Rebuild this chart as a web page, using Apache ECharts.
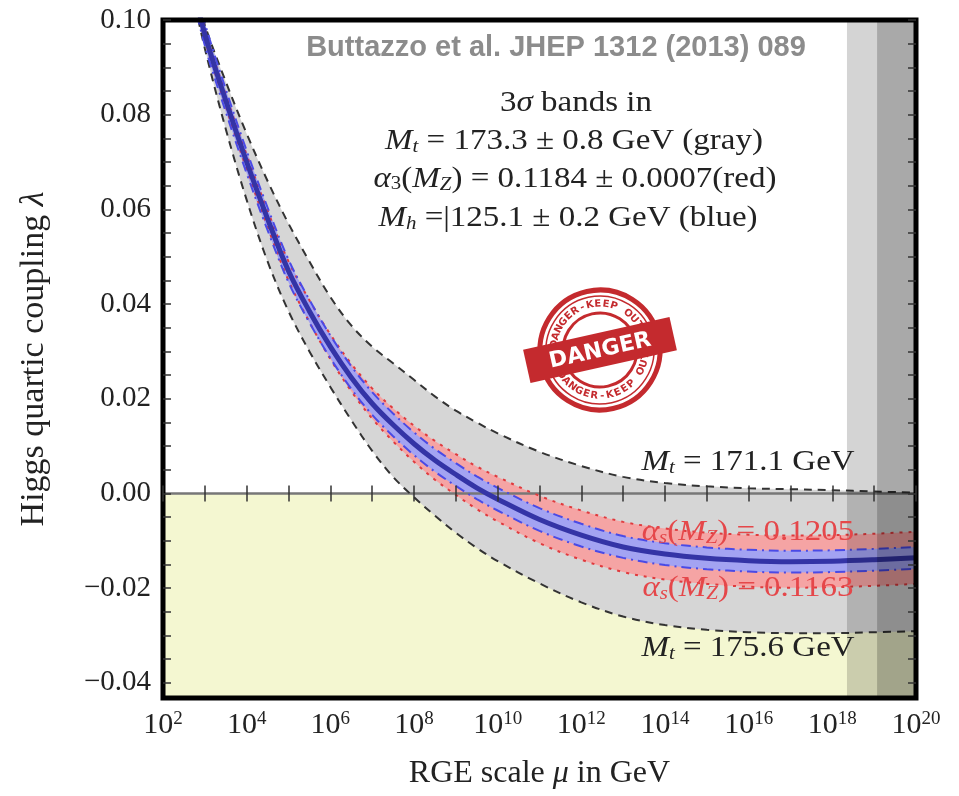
<!DOCTYPE html>
<html>
<head>
<meta charset="utf-8">
<script src="https://cdn.jsdelivr.net/npm/echarts@6/dist/echarts.min.js"></script>
<style>
  html, body { margin: 0; padding: 0; background: #fff; }
  #chart { width: 959px; height: 796px; }
</style>
</head>
<body>
<div id="chart"></div>
<script>
// x is log10 of the RGE scale mu (GeV)
const logMu = [2.7, 3, 3.5, 4, 4.5, 5, 5.5, 6, 6.5, 7, 7.5, 8, 8.5, 9, 9.5, 10, 11, 12, 13, 14, 15, 16, 17, 18, 19, 20];

// central value of the Higgs quartic coupling
const lambdaCentral = [0.108, 0.097, 0.083, 0.070, 0.058, 0.047, 0.0385, 0.031, 0.0245, 0.019, 0.0145, 0.0105, 0.007, 0.004, 0.0012, -0.0012, -0.0055, -0.0088, -0.0113, -0.0128, -0.0137, -0.0142, -0.0144, -0.0143, -0.0140, -0.0136];
// gray band edges: Mt = 171.1 GeV (upper) and Mt = 175.6 GeV (lower)
const mtLight = [0.109, 0.099, 0.087, 0.076, 0.066, 0.057, 0.049, 0.0415, 0.0355, 0.031, 0.0275, 0.024, 0.0205, 0.0175, 0.015, 0.0127, 0.0088, 0.0058, 0.0035, 0.0022, 0.0015, 0.0011, 0.0009, 0.0007, 0.0004, 0.0002];
const mtHeavy = [0.106, 0.094, 0.077, 0.062, 0.049, 0.0385, 0.030, 0.0225, 0.0155, 0.009, 0.0035, -0.0008, -0.0047, -0.0083, -0.0115, -0.0143, -0.019, -0.023, -0.026, -0.0278, -0.0288, -0.0293, -0.0295, -0.0295, -0.0293, -0.0291];
// red band edges: alpha_s(MZ) = 0.1205 (upper) and 0.1163 (lower)
const alphaHigh = [0.1088, 0.098, 0.0842, 0.0715, 0.0597, 0.049, 0.0408, 0.0336, 0.0274, 0.0222, 0.018, 0.0143, 0.0111, 0.0083, 0.0057, 0.0035, -0.0005, -0.0036, -0.006, -0.0074, -0.0083, -0.0087, -0.0089, -0.0088, -0.0085, -0.0081];
const alphaLow = [0.1072, 0.096, 0.0818, 0.0685, 0.0563, 0.045, 0.0362, 0.0284, 0.0216, 0.0158, 0.011, 0.0067, 0.0029, -0.0003, -0.0033, -0.0059, -0.0105, -0.014, -0.0166, -0.0182, -0.0191, -0.0197, -0.0199, -0.0198, -0.0195, -0.0191];
// blue band edges: Mh = 125.1 +- 0.2 GeV
const mhHigh = [0.1104, 0.0994, 0.0854, 0.0724, 0.0604, 0.0494, 0.0409, 0.0334, 0.0269, 0.0214, 0.0169, 0.0129, 0.0094, 0.0064, 0.0036, 0.0012, -0.0031, -0.0064, -0.009, -0.0105, -0.0114, -0.0119, -0.0121, -0.012, -0.0117, -0.0113];
const mhLow = [0.1056, 0.0946, 0.0806, 0.0676, 0.0556, 0.0446, 0.0361, 0.0286, 0.0221, 0.0166, 0.0121, 0.0081, 0.0046, 0.0016, -0.0012, -0.0036, -0.0079, -0.0112, -0.0136, -0.0151, -0.016, -0.0165, -0.0167, -0.0166, -0.0163, -0.0159];

// axes
const xRange = [2, 20];
const yRange = [-0.0432, 0.10];
const xTicks = [2, 3, 4, 5, 6, 7, 8, 9, 10, 11, 12, 13, 14, 15, 16, 17, 18, 19, 20];
const xLabels = [2, 4, 6, 8, 10, 12, 14, 16, 18, 20];
const yTicks = [-0.04, -0.035, -0.03, -0.025, -0.02, -0.015, -0.01, -0.005, 0, 0.005, 0.01, 0.015, 0.02, 0.025, 0.03, 0.035, 0.04, 0.045, 0.05, 0.055, 0.06, 0.065, 0.07, 0.075, 0.08, 0.085, 0.09, 0.095, 0.1];
const yLabels = [-0.04, -0.02, 0, 0.02, 0.04, 0.06, 0.08, 0.1];
// Planck-scale shading starts (log10 mu)
const planckStart = [18.35, 19.07];

const serif = '"Liberation Serif", "Times New Roman", serif';
const SMOOTH = 0.35;

const chart = echarts.init(document.getElementById('chart'));

function xy(ys) { return logMu.map((x, i) => [x, ys[i]]); }

// filled band between two edge arrays, drawn as one polygon through the axes
function band(name, hi, lo, color, z) {
  return {
    name: name, type: 'custom', z: z, silent: true, clip: true,
    data: [0],
    renderItem: function (params, api) {
      const top = hi.map((v, i) => api.coord([logMu[i], v]));
      const bottom = lo.map((v, i) => api.coord([logMu[i], v])).reverse();
      // repeat the corner points so the smoothing does not bulge at the ends
      const pts = [top[0]].concat(top, [top[top.length - 1], bottom[0]], bottom, [bottom[bottom.length - 1]]);
      const cs = params.coordSys;
      return {
        type: 'group',
        clipPath: { type: 'rect', shape: { x: cs.x, y: cs.y, width: cs.width, height: cs.height } },
        children: [
          { type: 'polygon', shape: { points: pts, smooth: SMOOTH }, style: { fill: color } }
        ]
      };
    }
  };
}

function edge(name, ys, color, width, dash, z) {
  return { name: name, type: 'line', data: xy(ys), symbol: 'none', smooth: SMOOTH, z: z, silent: true,
    lineStyle: { color: color, width: width, type: dash } };
}

function shade(name, rect, color, z) {
  return {
    name: name, type: 'custom', z: z, silent: true,
    data: [rect],
    encode: { x: [0, 1], y: [2, 3] },
    renderItem: function (params, api) {
      const a = api.coord([api.value(0), api.value(3)]);
      const b = api.coord([api.value(1), api.value(2)]);
      return { type: 'rect', shape: { x: a[0], y: a[1], width: b[0] - a[0], height: b[1] - a[1] }, style: { fill: color } };
    }
  };
}

const tickStyle = { inside: true, length: 8, lineStyle: { color: '#333', width: 1.5 } };

function yFmt(v) {
  if (Math.abs(v) < 1e-9) return '0.00';
  return (v < 0 ? '\u2212' : '') + Math.abs(v).toFixed(2);
}

// stamp
const stampColor = '#c42a2e';
const ringText = 'DANGER-KEEP OUT';
const stampEls = [
  { type: 'circle', shape: { r: 60 }, style: { fill: 'rgba(255,255,255,0)', stroke: stampColor, lineWidth: 5 } },
  { type: 'circle', shape: { r: 54 }, style: { fill: 'rgba(255,255,255,0)', stroke: stampColor, lineWidth: 1.5 } },
  { type: 'circle', shape: { r: 37 }, style: { fill: 'rgba(255,255,255,0)', stroke: stampColor, lineWidth: 3 } },
  { type: 'rect', shape: { x: -75, y: -17, width: 150, height: 34 }, style: { fill: stampColor } },
  { type: 'text', x: 0, y: 1, style: { text: 'DANGER', fontFamily: 'DejaVu Sans', fontWeight: 'bold', fontSize: 22,
    fill: '#fff', align: 'center', verticalAlign: 'middle', textAlign: 'center', textVerticalAlign: 'middle' } }
];
for (let k = 0; k < ringText.length; k++) {
  const top = (270 + (k - 7) * 10) * Math.PI / 180;
  stampEls.push({ type: 'text', x: 46 * Math.cos(top), y: 46 * Math.sin(top), rotation: -(top - 1.5 * Math.PI),
    style: { text: ringText[k], fontSize: 10, fontWeight: 'bold', fontFamily: 'DejaVu Sans', fill: stampColor,
      align: 'center', verticalAlign: 'middle', textAlign: 'center', textVerticalAlign: 'middle' } });
  const bot = (90 - (k - 7) * 10) * Math.PI / 180;
  stampEls.push({ type: 'text', x: 46 * Math.cos(bot), y: 46 * Math.sin(bot), rotation: (0.5 * Math.PI - bot),
    style: { text: ringText[k], fontSize: 10, fontWeight: 'bold', fontFamily: 'DejaVu Sans', fill: stampColor,
      align: 'center', verticalAlign: 'middle', textAlign: 'center', textVerticalAlign: 'middle' } });
}
stampEls.forEach(el => { el.z = 60; });

const richMath = {
  n: { fontFamily: serif, fontSize: 30, fill: '#222' },
  i: { fontFamily: serif, fontSize: 30, fontStyle: 'italic', fill: '#222' },
  sub: { fontFamily: serif, fontSize: 19, fill: '#222', verticalAlign: 'bottom' },
  isub: { fontFamily: serif, fontSize: 19, fontStyle: 'italic', fill: '#222', verticalAlign: 'bottom' }
};
const redColor = '#e5474a';
const richRed = {
  n: { fontFamily: serif, fontSize: 30, fill: redColor },
  i: { fontFamily: serif, fontSize: 30, fontStyle: 'italic', fill: redColor },
  sub: { fontFamily: serif, fontSize: 19, fill: redColor, verticalAlign: 'bottom' },
  isub: { fontFamily: serif, fontSize: 19, fontStyle: 'italic', fill: redColor, verticalAlign: 'bottom' }
};

function mathText(x, y, text, rich) {
  return { type: 'text', x: x, y: y, z: 50, scaleX: 1.1, silent: true,
    style: { text: text, rich: rich, align: 'center', verticalAlign: 'middle', textAlign: 'center', textVerticalAlign: 'middle' } };
}

const option = {
  animation: false,
  backgroundColor: '#fff',
  grid: { left: 163, right: 43, top: 20, bottom: 98, show: true, borderColor: '#000', borderWidth: 5, z: 20 },
  xAxis: [
    {
      type: 'value', min: xRange[0], max: xRange[1], position: 'bottom', z: 21,
      axisLine: { show: false }, splitLine: { show: false },
      axisTick: Object.assign({ customValues: xTicks }, tickStyle),
      axisLabel: {
        customValues: xLabels, margin: 12,
        formatter: v => '{b|10}{s|' + v + '}',
        rich: {
          b: { fontFamily: serif, fontSize: 30, color: '#222' },
          s: { fontFamily: serif, fontSize: 19, color: '#222', verticalAlign: 'top' }
        }
      },
      name: '{n|RGE scale }{i|\u03bc}{n| in GeV}', nameLocation: 'middle', nameGap: 60,
      nameTextStyle: { rich: {
        n: { fontFamily: serif, fontSize: 32, color: '#222' },
        i: { fontFamily: serif, fontSize: 32, fontStyle: 'italic', color: '#222' }
      } }
    },
    {
      type: 'value', min: xRange[0], max: xRange[1], position: 'top', z: 21,
      axisLine: { show: false }, splitLine: { show: false }, axisLabel: { show: false },
      axisTick: Object.assign({ customValues: xTicks }, tickStyle)
    }
  ],
  yAxis: [
    {
      type: 'value', min: yRange[0], max: yRange[1], position: 'left', z: 21,
      axisLine: { show: false }, splitLine: { show: false },
      axisTick: Object.assign({ customValues: yTicks }, tickStyle),
      axisLabel: { customValues: yLabels, margin: 12, formatter: yFmt, fontFamily: serif, fontSize: 29, color: '#222' },
      name: '{n|Higgs quartic coupling }{i|\u03bb}', nameLocation: 'middle', nameRotate: 90, nameGap: 112,
      nameTextStyle: { rich: {
        n: { fontFamily: serif, fontSize: 34, color: '#222' },
        i: { fontFamily: serif, fontSize: 34, fontStyle: 'italic', color: '#222' }
      } }
    },
    {
      type: 'value', min: yRange[0], max: yRange[1], position: 'right', z: 21,
      axisLine: { show: false }, splitLine: { show: false }, axisLabel: { show: false },
      axisTick: Object.assign({ customValues: yTicks }, tickStyle)
    }
  ],
  series: [
    shade('unstable', [xRange[0], xRange[1], yRange[0], 0], '#f4f7d1', 1),
    band('Mt band', mtLight, mtHeavy, '#d6d6d6', 2),
    band('alpha band', alphaHigh, alphaLow, '#f5a4a4', 3),
    band('Mh band', mhHigh, mhLow, '#a3a3f2', 4),
    { name: 'zero', type: 'line', data: xRange.map(x => [x, 0]), symbol: 'none', z: 5, silent: true,
      lineStyle: { color: '#777', width: 2.5 } },
    edge('Mt 171.1', mtLight, '#333', 2, [8, 6], 6),
    edge('Mt 175.6', mtHeavy, '#333', 2, [8, 6], 6),
    edge('as 0.1205', alphaHigh, '#e03a3d', 2, [3, 6], 7),
    edge('as 0.1163', alphaLow, '#e03a3d', 2, [3, 6], 7),
    edge('Mh high', mhHigh, '#4a4ae6', 2, [10, 5, 2, 5], 7),
    edge('Mh low', mhLow, '#4a4ae6', 2, [10, 5, 2, 5], 7),
    edge('central', lambdaCentral, '#3434a6', 5, 'solid', 8),
    shade('planck1', [planckStart[0], xRange[1], yRange[0], yRange[1]], 'rgba(0,0,0,0.17)', 9),
    shade('planck2', [planckStart[1], xRange[1], yRange[0], yRange[1]], 'rgba(0,0,0,0.2)', 9)
  ],
  graphic: [
    { type: 'text', x: 556, y: 48, z: 50, silent: true,
      style: { text: 'Buttazzo et al. JHEP 1312 (2013) 089', fontFamily: '"Liberation Sans", Arial, sans-serif', fontSize: 29, fontWeight: 'bold',
        fill: '#8c8c8c', align: 'center', verticalAlign: 'middle', textAlign: 'center', textVerticalAlign: 'middle' } },
    mathText(576, 103, '{n|3}{i|\u03c3}{n| bands in}', richMath),
    mathText(574, 141, '{i|M}{isub|t}{n| = 173.3 \u00b1 0.8 GeV (gray)}', richMath),
    mathText(575, 179, '{i|\u03b1}{sub|3}{n|(}{i|M}{isub|Z}{n|) = 0.1184 \u00b1 0.0007(red)}', richMath),
    mathText(568, 218, '{i|M}{isub|h}{n| =|125.1 \u00b1 0.2 GeV (blue)}', richMath),
    mathText(748, 462, '{i|M}{isub|t}{n| = 171.1 GeV}', richMath),
    mathText(748, 532, '{i|\u03b1}{isub|s}{n|(}{i|M}{isub|Z}{n|) = 0.1205}', richRed),
    mathText(748, 588, '{i|\u03b1}{isub|s}{n|(}{i|M}{isub|Z}{n|) = 0.1163}', richRed),
    mathText(748, 648, '{i|M}{isub|t}{n| = 175.6 GeV}', richMath),
    { type: 'group', x: 600, y: 350, rotation: 0.22, z: 60, silent: true, children: stampEls }
  ]
};

chart.setOption(option);
</script>
</body>
</html>
